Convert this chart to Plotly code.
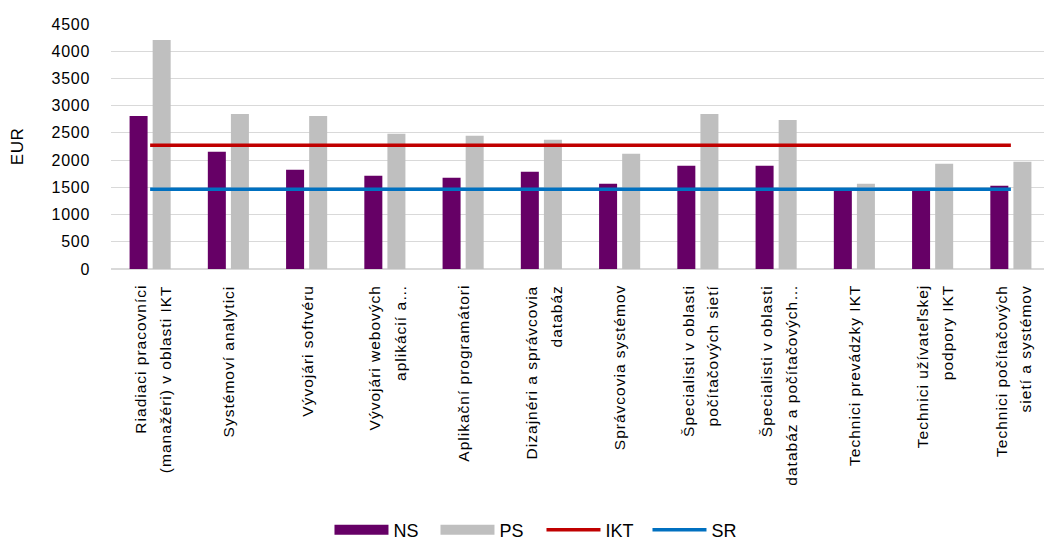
import plotly.graph_objects as go

categories = [
    "Riadiaci pracovníci<br>(manažéri) v oblasti IKT",
    "Systémoví analytici",
    "Vývojári softvéru",
    "Vývojári webových<br>aplikácií a…",
    "Aplikační programátori",
    "Dizajnéri a správcovia<br>databáz",
    "Správcovia systémov",
    "Špecialisti v oblasti<br>počítačových sietí",
    "Špecialisti v oblasti<br>databáz a počítačových…",
    "Technici prevádzky IKT",
    "Technici užívateľskej<br>podpory IKT",
    "Technici počítačových<br>sietí a systémov",
]
ns_values = [2812, 2152, 1822, 1712, 1675, 1785, 1565, 1895, 1895, 1450, 1460, 1529]
ps_values = [4206, 2849, 2812, 2482, 2446, 2372, 2115, 2849, 2739, 1565, 1932, 1969]
ikt_value = 2274
sr_value = 1467
ikt_values = [ikt_value] * len(categories)
sr_values = [sr_value] * len(categories)
y_ticks = [0, 500, 1000, 1500, 2000, 2500, 3000, 3500, 4000, 4500]

C_NS = "#660066"
C_PS = "#BFBFBF"
C_IKT = "#C00000"
C_SR = "#0070C0"
FONT = "Liberation Sans, Arial, sans-serif"

# the page body adds an 8 px offset; the figure is sized to fit the window
W, H = 1044, 533

xpos = list(range(len(categories)))

fig = go.Figure()
fig.add_trace(go.Bar(x=xpos, y=ns_values, name="NS", marker=dict(color=C_NS, line=dict(width=0)), showlegend=False))
fig.add_trace(go.Bar(x=xpos, y=ps_values, name="PS", marker=dict(color=C_PS, line=dict(width=0)), showlegend=False))
fig.add_trace(go.Scatter(x=xpos, y=ikt_values, name="IKT", mode="lines", line=dict(color=C_IKT, width=3.5), showlegend=False))
fig.add_trace(go.Scatter(x=xpos, y=sr_values, name="SR", mode="lines", line=dict(color=C_SR, width=3.5), showlegend=False))

# legend entries
fig.add_trace(go.Scatter(x=[None], y=[None], name="NS", mode="lines", line=dict(color=C_NS, width=13)))
fig.add_trace(go.Scatter(x=[None], y=[None], name="PS", mode="lines", line=dict(color=C_PS, width=13)))
fig.add_trace(go.Scatter(x=[None], y=[None], name="IKT", mode="lines", line=dict(color=C_IKT, width=3.5)))
fig.add_trace(go.Scatter(x=[None], y=[None], name="SR", mode="lines", line=dict(color=C_SR, width=3.5)))

# category labels (one rotated text per line, centred like the original)
for i, lab in enumerate(categories):
    lines = lab.split("<br>")
    shifts = [0] if len(lines) == 1 else [-10, 15]
    for line, sh in zip(lines, shifts):
        fig.add_annotation(
            x=xpos[i], y=0, xref="x", yref="paper",
            text='<span style="letter-spacing:1px">' + line + "</span>",
            textangle=-90, showarrow=False,
            xanchor="center", yanchor="top", yshift=-14, xshift=sh, align="center",
            font=dict(family=FONT, size=15.5, color="#000000"),
        )

fig.update_layout(
    width=W, height=H,
    margin=dict(l=103, r=2, t=16, b=272, autoexpand=False),
    paper_bgcolor="white", plot_bgcolor="white",
    barmode="group", bargap=0.41, bargroupgap=0.22,
    font=dict(family=FONT, size=16, color="#000000"),
    legend=dict(orientation="h", xref="container", yref="container",
                x=0.511, xanchor="center", y=0.0206, yanchor="middle",
                font=dict(family=FONT, size=18, color="#000000"),
                itemwidth=54, entrywidth=37, traceorder="normal"),
    xaxis=dict(range=[-0.5, len(categories) - 0.5], showticklabels=False, showgrid=False,
               zeroline=False, showline=False, ticks="", automargin=False),
    yaxis=dict(range=[0, 4500], tickvals=y_ticks,
               ticktext=['<span style="letter-spacing:0.7px">%d</span>' % v for v in y_ticks],
               showgrid=True, gridcolor="#D9D9D9", gridwidth=1.2,
               zeroline=True, zerolinecolor="#D9D9D9", zerolinewidth=1.5,
               showline=False, ticks="", ticklabelstandoff=20, automargin=False,
               tickfont=dict(family=FONT, size=16, color="#000000"),
               title=dict(text='<span style="letter-spacing:0.5px">EUR</span>', standoff=28,
                          font=dict(family=FONT, size=17, color="#000000"))),
)

fig.write_html("out.html")
